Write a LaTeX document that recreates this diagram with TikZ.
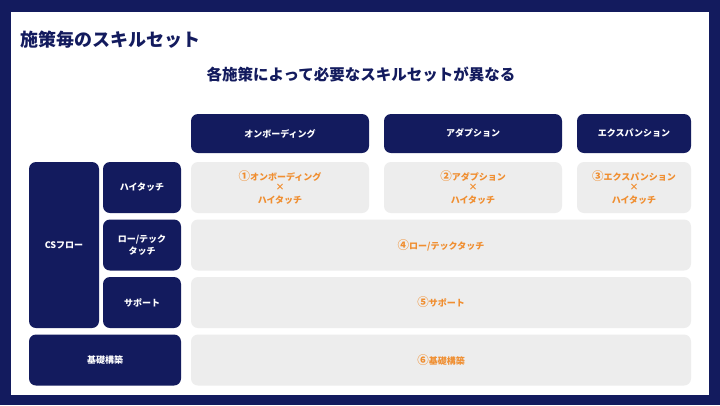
\documentclass[tikz,border=0pt]{standalone}
\usepackage{fontspec}
\setmainfont{Noto Sans CJK JP}
\usepackage{tikz}
\usetikzlibrary{positioning}
\usepackage{xcolor}
\definecolor{navy}{RGB}{19,27,94}
\definecolor{cellgray}{RGB}{237,237,237}
\definecolor{accent}{RGB}{240,142,48}
\newcommand{\circnum}[1]{{\fontsize{11.5}{12}\selectfont #1}}

\begin{document}
\begin{tikzpicture}[x=1pt, y=-1pt, font=\bfseries,
      head/.style={fill=navy, text=white, rounded corners=7pt, inner sep=0pt, align=center,
                   font=\bfseries\fontsize{9}{12}\selectfont},
      cell/.style={fill=cellgray, text=accent, rounded corners=7pt, inner sep=0pt, align=center,
                   font=\bfseries\fontsize{9}{12.5}\selectfont}]
    % frame
    \fill[navy] (0,0) rectangle (720,405);
    \fill[white] (11,12) rectangle (709,395);
    \useasboundingbox (0,0) rectangle (720,405);

    \node[anchor=west, text=navy, font=\bfseries\fontsize{18}{20}\selectfont, inner sep=0pt] (title) at (20,40) {施策毎のスキルセット};
    \node[text=navy, font=\bfseries\fontsize{15.5}{18}\selectfont, inner sep=0pt] (sub) at (361,75) {各施策によって必要なスキルセットが異なる};

    % column headers
    \node[head, minimum width=178, minimum height=39] (onb) at (280,133.5) {オンボーディング};
    \node[head, minimum width=178, minimum height=39] (adp) at (473,133.5) {アダプション};
    \node[head, minimum width=114, minimum height=39] (exp) at (634,133.5) {エクスパンション};

    % row headers
    \node[head, minimum width=70, minimum height=166] (cs) at (64,245) {CSフロー};
    \node[head, minimum width=78, minimum height=51] (high) at (142,187.5) {ハイタッチ};
    \node[head, minimum width=78, minimum height=51] (low) at (142,245) {ロー/テック\\タッチ};
    \node[head, minimum width=78, minimum height=51] (sup) at (142,302.5) {サポート};
    \node[head, minimum width=152, minimum height=51] (base) at (105,360) {基礎構築};

    % cells
    \node[cell, minimum width=178, minimum height=51] (c1) at (280,187.5) {\circnum{①}オンボーディング\\[-2pt]{\small ×}\\[0pt]ハイタッチ};
    \node[cell, minimum width=178, minimum height=51] (c2) at (473,187.5) {\circnum{②}アダプション\\[-2pt]{\small ×}\\[0pt]ハイタッチ};
    \node[cell, minimum width=114, minimum height=51] (c3) at (634,187.5) {\circnum{③}エクスパンション\\[-2pt]{\small ×}\\[0pt]ハイタッチ};
    \node[cell, minimum width=500, minimum height=51] (c4) at (441,245) {\circnum{④}ロー/テックタッチ};
    \node[cell, minimum width=500, minimum height=51] (c5) at (441,302.5) {\circnum{⑤}サポート};
    \node[cell, minimum width=500, minimum height=51] (c6) at (441,360) {\circnum{⑥}基礎構築};
\end{tikzpicture}
\end{document}
